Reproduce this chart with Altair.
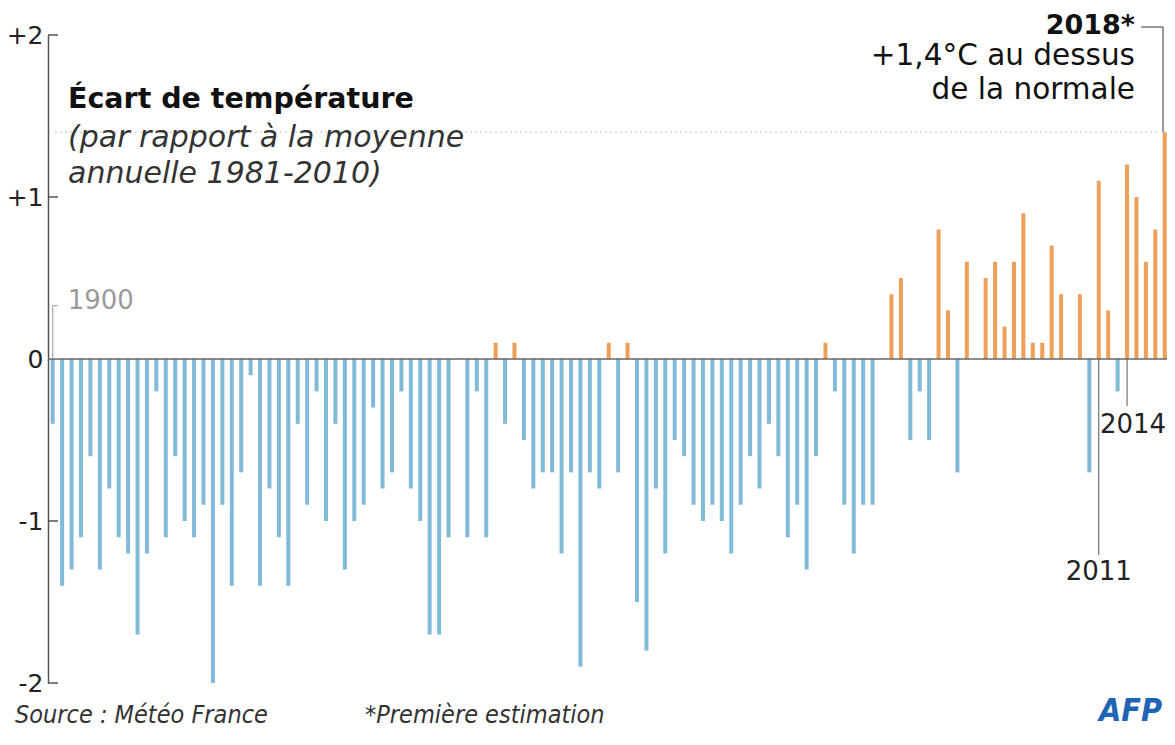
import altair as alt
import pandas as pd

years = list(range(1900, 2019))
anomalies = [
    -0.4, -1.4, -1.3, -1.1, -0.6, -1.3, -0.8, -1.1, -1.2, -1.7,   # 1900-1909
    -1.2, -0.2, -1.1, -0.6, -1.0, -1.1, -0.9, -2.0, -0.9, -1.4,   # 1910-1919
    -0.7, -0.1, -1.4, -0.8, -1.1, -1.4, -0.4, -0.9, -0.2, -1.0,   # 1920-1929
    -0.4, -1.3, -1.0, -0.9, -0.3, -0.8, -0.7, -0.2, -0.8, -1.0,   # 1930-1939
    -1.7, -1.7, -1.1, 0.0, -1.1, -0.2, -1.1, 0.1, -0.4, 0.1,      # 1940-1949
    -0.5, -0.8, -0.7, -0.7, -1.2, -0.7, -1.9, -0.7, -0.8, 0.1,    # 1950-1959
    -0.7, 0.1, -1.5, -1.8, -0.8, -1.2, -0.5, -0.6, -0.9, -1.0,    # 1960-1969
    -0.9, -1.0, -1.2, -0.9, -0.6, -0.8, -0.4, -0.6, -1.1, -0.9,   # 1970-1979
    -1.3, -0.6, 0.1, -0.2, -0.9, -1.2, -0.9, -0.9, 0.0, 0.4,      # 1980-1989
    0.5, -0.5, -0.2, -0.5, 0.8, 0.3, -0.7, 0.6, 0.0, 0.5,         # 1990-1999
    0.6, 0.2, 0.6, 0.9, 0.1, 0.1, 0.7, 0.4, 0.0, 0.4,             # 2000-2009
    -0.7, 1.1, 0.3, -0.2, 1.2, 1.0, 0.6, 0.8, 1.4,                # 2010-2018
]
tick_values = [-2, -1, 0, 1, 2]
inner_ticks = [-2, -1, 1, 2]

BLUE = "#80bad9"
ORANGE = "#eea058"
DARK = "#222222"
AXIS = "#555555"
FONT = "DejaVu Sans"
SRC_FONT = "DejaVu Sans Condensed, DejaVu Sans"

df = pd.DataFrame({"year": years, "value": anomalies})
df["sign"] = ["pos" if v > 0 else "neg" for v in anomalies]

xs = alt.Scale(domain=[1899.5, 2018.24], nice=False, zero=False, padding=0)
ys = alt.Scale(domain=[-2, 2], nice=False, padding=0)

# dotted reference line at the 2018 value
ref = alt.Chart(pd.DataFrame({"y": [1.4]})).mark_rule(
    strokeDash=[2, 3], color="#c4c4c4", strokeWidth=1
).encode(y=alt.Y("y:Q", scale=ys), x=alt.value(7), x2=alt.value(1109))

bars = alt.Chart(df).mark_bar(size=4).encode(
    x=alt.X("year:Q", scale=xs, axis=None),
    y=alt.Y(
        "value:Q",
        scale=ys,
        axis=alt.Axis(
            values=tick_values,
            labelExpr="datum.value > 0 ? '+' + datum.value : (datum.value < 0 ? '-' + abs(datum.value) : '0')",
            tickSize=0,
            labelPadding=5,
            labelFontSize=25,
            labelFont=FONT,
            labelColor=DARK,
            domainColor=AXIS,
            domainWidth=1.5,
            grid=False,
            title=None,
            labelFlush=False,
            labelOverlap=False,
        ),
    ),
    color=alt.Color("sign:N", scale=alt.Scale(domain=["neg", "pos"], range=[BLUE, ORANGE]), legend=None),
)

zero = alt.Chart(pd.DataFrame({"y": [0]})).mark_rule(color="#666666", strokeWidth=1.5).encode(
    y=alt.Y("y:Q", scale=ys), x=alt.value(0), x2=alt.value(1119)
)

ticks = alt.Chart(pd.DataFrame({"y": inner_ticks})).mark_rule(color=AXIS, strokeWidth=1.5).encode(
    y=alt.Y("y:Q", scale=ys), x=alt.value(0), x2=alt.value(10)
)

# 1900 label and bracket
lbl1900 = pd.DataFrame({"year": [1900], "y0": [0.0], "y1": [0.33], "ty": [0.36]})
l1900_v = alt.Chart(lbl1900).mark_rule(color="#aaaaaa", strokeWidth=1.2).encode(
    x=alt.X("year:Q", scale=xs), y=alt.Y("y0:Q", scale=ys), y2="y1:Q"
)
l1900_h = alt.Chart(lbl1900).mark_rule(color="#aaaaaa", strokeWidth=1.2).encode(
    x=alt.X("year:Q", scale=xs), x2=alt.value(10), y=alt.Y("y1:Q", scale=ys)
)
l1900_t = alt.Chart(lbl1900).mark_text(
    text="1900", align="left", baseline="middle", dx=15, fontSize=26, font=FONT, color="#9a9a9a"
).encode(x=alt.X("year:Q", scale=xs), y=alt.Y("ty:Q", scale=ys))

# 2011 and 2014 labels
ylabels = pd.DataFrame({
    "year": [2011, 2014],
    "label": ["2011", "2014"],
    "lend": [-1.21, -0.29],
    "ty": [-1.315, -0.41],
})
ylines = alt.Chart(ylabels).mark_rule(color="#555555", strokeWidth=1).encode(
    x=alt.X("year:Q", scale=xs), y=alt.Y("lend:Q", scale=ys), y2=alt.datum(0)
)
yt2011 = alt.Chart(ylabels[ylabels.year == 2011]).mark_text(
    align="center", baseline="middle", fontSize=26, font=FONT, color=DARK
).encode(x=alt.X("year:Q", scale=xs), y=alt.Y("ty:Q", scale=ys), text="label:N")
yt2014 = alt.Chart(ylabels[ylabels.year == 2014]).mark_text(
    align="center", baseline="middle", dx=6, fontSize=26, font=FONT, color=DARK
).encode(x=alt.X("year:Q", scale=xs), y=alt.Y("ty:Q", scale=ys), text="label:N")

# 2018 annotation
ann = pd.DataFrame({"year": [2018], "v": [1.4]})
a_v = alt.Chart(ann).mark_rule(color="#555555", strokeWidth=1.2).encode(
    x=alt.value(1115), y=alt.Y("v:Q", scale=ys), y2=alt.value(-8)
)
a_h = alt.Chart(ann).mark_rule(color="#555555", strokeWidth=1.2).encode(
    x=alt.value(1093), x2=alt.value(1115), y=alt.value(-8)
)
a_t1 = alt.Chart(ann).mark_text(
    text="2018*", align="right", baseline="alphabetic", fontSize=27, fontWeight="bold", font=FONT, color="#111111"
).encode(x=alt.value(1087), y=alt.value(-1))
a_t2 = alt.Chart(ann).mark_text(
    text="+1,4°C au dessus", align="right", baseline="alphabetic", fontSize=29.5, font=FONT, color="#111111"
).encode(x=alt.value(1087), y=alt.value(30))
a_t3 = alt.Chart(ann).mark_text(
    text="de la normale", align="right", baseline="alphabetic", fontSize=29.5, font=FONT, color="#111111"
).encode(x=alt.value(1087), y=alt.value(64))

# title block
t1 = alt.Chart(ann).mark_text(
    text="Écart de température", align="left", baseline="alphabetic", fontSize=28.5, fontWeight="bold", font=FONT, color="#111111"
).encode(x=alt.value(20), y=alt.value(73))
t2 = alt.Chart(ann).mark_text(
    text="(par rapport à la moyenne", align="left", baseline="alphabetic", fontSize=30, fontStyle="italic", font=FONT, color="#333333"
).encode(x=alt.value(20), y=alt.value(112))
t3 = alt.Chart(ann).mark_text(
    text="annuelle 1981-2010)", align="left", baseline="alphabetic", fontSize=30, fontStyle="italic", font=FONT, color="#333333"
).encode(x=alt.value(20), y=alt.value(148))

# footer
f1 = alt.Chart(ann).mark_text(
    text="Source : Météo France", align="left", baseline="alphabetic", fontSize=25, fontStyle="italic", font=SRC_FONT, color="#333333"
).encode(x=alt.value(-33), y=alt.value(688))
f2 = alt.Chart(ann).mark_text(
    text="*Première estimation", align="left", baseline="alphabetic", fontSize=25, fontStyle="italic", font=SRC_FONT, color="#333333"
).encode(x=alt.value(317), y=alt.value(688))
afp = alt.Chart(ann).mark_text(
    text="AFP", align="right", baseline="alphabetic", fontSize=32, fontStyle="italic", fontWeight="bold",
    font="DejaVu Sans Condensed, DejaVu Sans", color="#1f65b3"
).encode(x=alt.value(1114), y=alt.value(686))

chart = alt.layer(
    ref, bars, zero, ticks, l1900_v, l1900_h, l1900_t, ylines, yt2011, yt2014,
    a_v, a_h, a_t1, a_t2, a_t3, t1, t2, t3, f1, f2, afp
).properties(
    width=1119, height=648,
    autosize=alt.AutoSizeParams(type="none"),
    padding={"left": 40, "top": 27, "right": 0, "bottom": 48},
    background="white",
).configure_view(stroke=None)

chart.save("out.html", embed_options={"renderer": "svg", "actions": False})
